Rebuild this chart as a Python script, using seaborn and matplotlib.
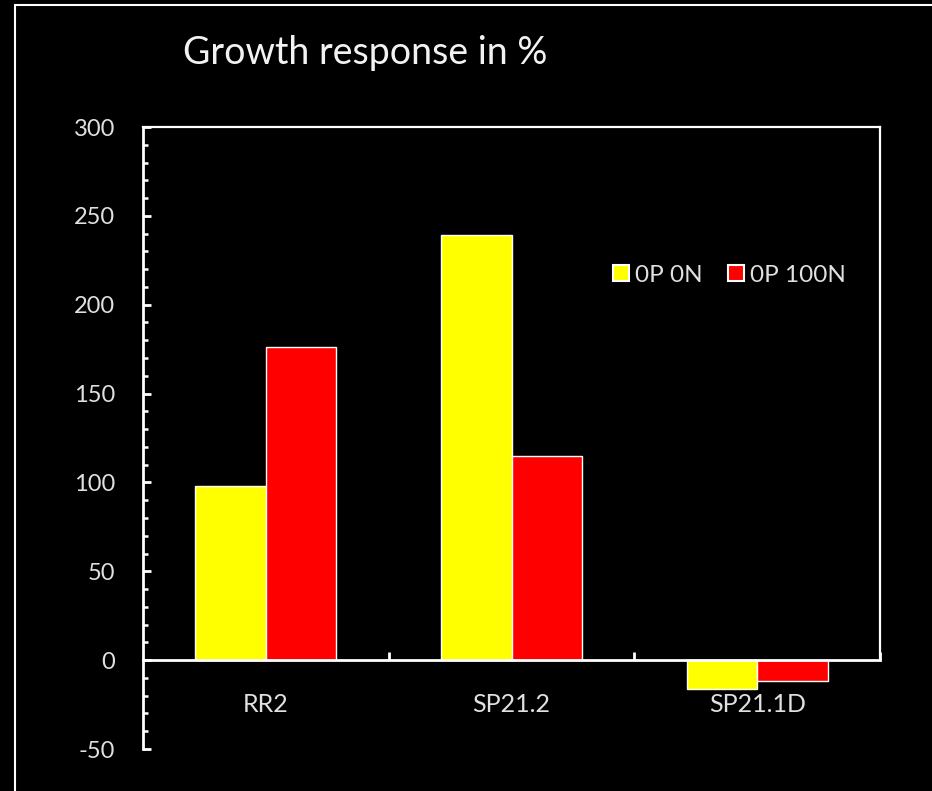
import matplotlib
matplotlib.use("Agg")
import matplotlib.pyplot as plt
from matplotlib.patches import Patch, Rectangle
from matplotlib.ticker import MultipleLocator, FixedLocator
import pandas as pd
import seaborn as sns

# Growth response (%) per line and treatment
lines = ["RR2", "SP21.2", "SP21.1D"]
treatments = ["0P 0N", "0P 100N"]
response_0p_0n = [98, 239, -16]
response_0p_100n = [176, 115, -12]
bar_colors = ["#ffff00", "#ff0000"]
y_ticks = [-50, 0, 50, 100, 150, 200, 250, 300]

df = pd.DataFrame({
    "line": lines * 2,
    "treatment": [treatments[0]] * len(lines) + [treatments[1]] * len(lines),
    "response": response_0p_0n + response_0p_100n,
})

plt.rcParams["font.family"] = ["Lato", "DejaVu Sans"]
plt.rcParams["font.weight"] = "normal"
plt.rcParams["axes.unicode_minus"] = False

W, H = 932, 791
fig = plt.figure(figsize=(W / 100, H / 100), dpi=100, facecolor="black")
ax = fig.add_axes([143 / W, 1 - 749 / H, (880 - 143) / W, (749 - 127) / H])
ax.set_facecolor("black")

sns.barplot(data=df, x="line", y="response", hue="treatment",
            order=lines, hue_order=treatments, palette=bar_colors,
            width=0.575, saturation=1, errorbar=None,
            edgecolor="white", linewidth=1, ax=ax)

ax.set_xlim(-0.5, len(lines) - 0.5)
ax.set_ylim(y_ticks[0], y_ticks[-1])
ax.set_xlabel("")
ax.set_ylabel("")

# Frame: full left axis, box above the zero line only
for side in ["left", "top", "right", "bottom"]:
    ax.spines[side].set_color("white")
ax.spines["left"].set_linewidth(2.0)
ax.spines["top"].set_linewidth(1.6)
ax.spines["right"].set_linewidth(1.6)
ax.spines["right"].set_bounds(0, y_ticks[-1])
ax.spines["bottom"].set_position(("data", 0))
ax.spines["bottom"].set_linewidth(2.0)

# y axis: major every 50, minor every 10, pointing inward
ax.yaxis.set_major_locator(FixedLocator(y_ticks))
ax.yaxis.set_minor_locator(MultipleLocator(10))
ax.tick_params(axis="y", which="major", direction="in", length=5.5, width=2.0,
               color="white", labelcolor="#e0e0e0", labelsize=17, pad=20)
ax.tick_params(axis="y", which="minor", direction="in", length=3.5, width=1.8,
               color="white")

# x axis: labels at category centres, marks between categories
ax.set_xticks(range(len(lines)))
ax.set_xticklabels(lines)
ax.xaxis.set_minor_locator(FixedLocator([0.5, 1.5, 2.5]))
ax.tick_params(axis="x", which="major", length=0, labelcolor="#e0e0e0",
               labelsize=18, pad=24)
ax.tick_params(axis="x", which="minor", direction="in", length=6, width=2.0,
               color="white")
ax.grid(False)

if ax.get_legend() is not None:
    ax.get_legend().remove()
handles = [Patch(facecolor=c, edgecolor="white", linewidth=1.5) for c in bar_colors]
leg = fig.legend(handles, treatments, loc="center left",
                 bbox_to_anchor=(613 / W, 1 - 275 / H), ncol=2, frameon=False,
                 fontsize=17.5, labelcolor="#e0e0e0", handlelength=0.66,
                 handleheight=0.6, handletextpad=0.25, columnspacing=1.05,
                 borderpad=0, borderaxespad=0)

fig.text(183 / W, 1 - 64 / H, "Growth response in %", color="#f2f2f2",
         fontsize=27, ha="left", va="baseline")

# Thin frame around the slide area
fig.patches.append(Rectangle((15 / W, -0.05), 1.2, 1.05 - 5 / H,
                             transform=fig.transFigure, fill=False,
                             edgecolor="white", linewidth=1.5))

fig.savefig("out.png", dpi=100, facecolor="black")
